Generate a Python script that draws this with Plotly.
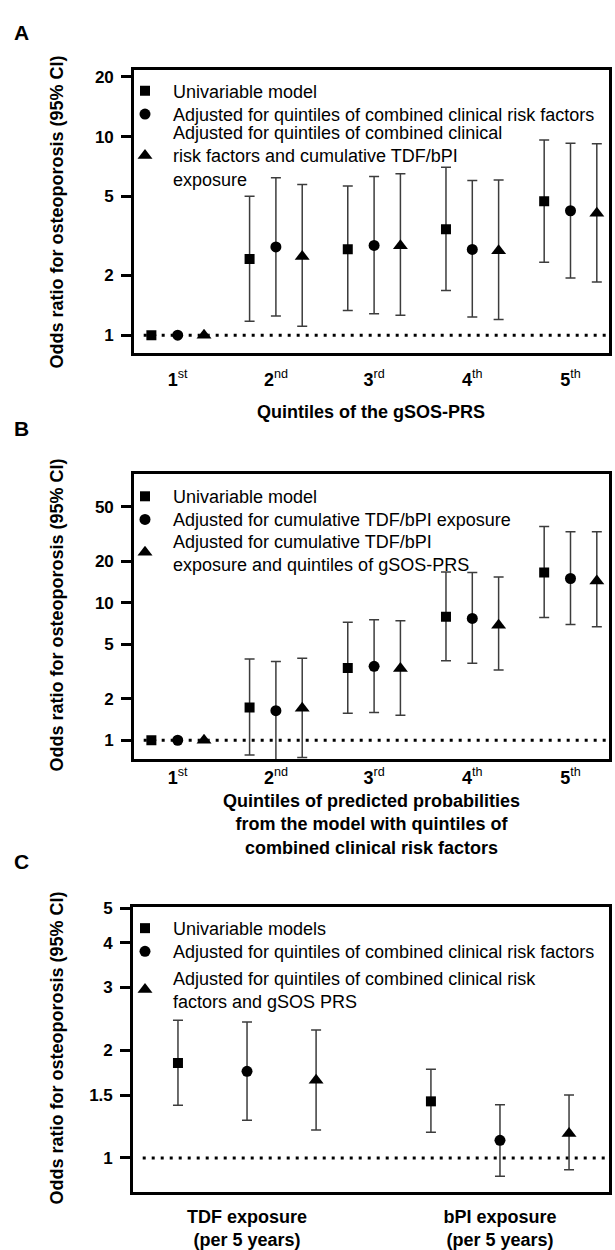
import plotly.graph_objects as go

FONT = "Liberation Sans, Arial, Helvetica, sans-serif"

# ---------------- data ----------------
# Panel A: quintiles of the gSOS-PRS
A_TICK_LABELS = ["<b>1</b><sup>st</sup>", "<b>2</b><sup>nd</sup>", "<b>3</b><sup>rd</sup>",
                 "<b>4</b><sup>th</sup>", "<b>5</b><sup>th</sup>"]
A_NAMES = ["Univariable model",
           "Adjusted for quintiles of combined clinical risk factors",
           "Adjusted for quintiles of combined clinical<br>risk factors and cumulative TDF/bPI<br>exposure"]
A_OR_1 = [1, 2.42, 2.71, 3.41, 4.73]
A_LO_1 = [None, 1.175, 1.33, 1.68, 2.33]
A_HI_1 = [None, 5.01, 5.64, 7.0, 9.62]
A_OR_2 = [1, 2.78, 2.83, 2.70, 4.23]
A_LO_2 = [None, 1.25, 1.28, 1.235, 1.94]
A_HI_2 = [None, 6.21, 6.29, 6.0, 9.26]
A_OR_3 = [1, 2.49, 2.82, 2.66, 4.11]
A_LO_3 = [None, 1.11, 1.26, 1.2, 1.85]
A_HI_3 = [None, 5.73, 6.5, 6.05, 9.19]
A_YTICKS = [1, 2, 5, 10, 20]

# Panel B: quintiles of predicted probabilities
B_TICK_LABELS = A_TICK_LABELS
B_NAMES = ["Univariable model",
           "Adjusted for cumulative TDF/bPI exposure",
           "Adjusted for cumulative TDF/bPI<br>exposure and quintiles of gSOS-PRS"]
B_OR_1 = [1, 1.73, 3.35, 7.9, 16.6]
B_LO_1 = [None, 0.78, 1.57, 3.79, 7.8]
B_HI_1 = [None, 3.9, 7.22, 16.7, 35.9]
B_OR_2 = [1, 1.64, 3.45, 7.69, 15.0]
B_LO_2 = [None, 0.62, 1.59, 3.63, 6.95]
B_HI_2 = [None, 3.73, 7.51, 16.6, 32.8]
B_OR_3 = [1, 1.71, 3.32, 6.87, 14.4]
B_LO_3 = [None, 0.75, 1.52, 3.24, 6.68]
B_HI_3 = [None, 3.95, 7.39, 15.4, 32.8]
B_YTICKS = [1, 2, 5, 10, 20, 50]

# Panel C: exposures per 5 years
C_TICK_LABELS = ["TDF exposure<br>(per 5 years)", "bPI exposure<br>(per 5 years)"]
C_NAMES = ["Univariable models",
           "Adjusted for quintiles of combined clinical risk factors",
           "Adjusted for quintiles of combined clinical risk<br>factors and gSOS PRS"]
C_OR_1 = [1.845, 1.44]
C_LO_1 = [1.405, 1.18]
C_HI_1 = [2.43, 1.77]
C_OR_2 = [1.747, 1.12]
C_LO_2 = [1.275, 0.889]
C_HI_2 = [2.40, 1.41]
C_OR_3 = [1.65, 1.17]
C_LO_3 = [1.197, 0.927]
C_HI_3 = [2.28, 1.50]
C_YTICKS = [1, 1.5, 2, 3, 4, 5]

REF_OR = 1

Y_TITLE = "Odds ratio for osteoporosis (95% CI)"
A_XTITLE = "Quintiles of the gSOS-PRS"
B_XTITLE = "Quintiles of predicted probabilities<br>from the model with quintiles of<br>combined clinical risk factors"

# ---------------- layout helpers ----------------
W, H = 615, 1250
SYMBOLS = ["square", "circle", "triangle-up"]
SIZES = [10, 11, 13]


def px_x(v):
    return v / W


def px_y(v):
    return 1 - v / H


def plus(orv, hi):
    return [None if h is None else h - o for o, h in zip(orv, hi)]


def minus(orv, lo):
    return [None if l is None else o - l for o, l in zip(orv, lo)]


fig = go.Figure()

# top edge (window px) of each legend entry's box
LEGEND_TOPS = [[65.1, 88.5, 106.6], [473.5, 496.8, 518.1], [908.5, 931.8, 958.6]]

panels = [
    dict(key="", ors=[A_OR_1, A_OR_2, A_OR_3], los=[A_LO_1, A_LO_2, A_LO_3],
         his=[A_HI_1, A_HI_2, A_HI_3], names=A_NAMES, offset=0.268),
    dict(key="2", ors=[B_OR_1, B_OR_2, B_OR_3], los=[B_LO_1, B_LO_2, B_LO_3],
         his=[B_HI_1, B_HI_2, B_HI_3], names=B_NAMES, offset=0.268),
    dict(key="3", ors=[C_OR_1, C_OR_2, C_OR_3], los=[C_LO_1, C_LO_2, C_LO_3],
         his=[C_HI_1, C_HI_2, C_HI_3], names=C_NAMES, offset=0.273),
]

leg_common = dict(bgcolor="rgba(0,0,0,0)", borderwidth=0,
                  font=dict(family=FONT, size=18, color="black"),
                  xanchor="left", yanchor="top", valign="middle", itemwidth=46,
                  itemclick=False, itemdoubleclick=False)
legends = {}
n = 0
for pi, p in enumerate(panels):
    for k in range(3):
        n += 1
        lname = "legend" if n == 1 else "legend%d" % n
        legends[lname] = dict(**leg_common, x=px_x(117), y=px_y(LEGEND_TOPS[pi][k]))
        orv = p["ors"][k]
        xs = [i + (k - 1) * p["offset"] for i in range(len(orv))]
        fig.add_trace(go.Scatter(
            x=xs, y=orv, mode="markers", name=p["names"][k],
            xaxis="x" + p["key"], yaxis="y" + p["key"], legend=lname,
            marker=dict(symbol=SYMBOLS[k], size=SIZES[k], color="black"),
            error_y=dict(type="data", symmetric=False,
                         array=plus(orv, p["his"][k]), arrayminus=minus(orv, p["los"][k]),
                         color="#3c3c3c", thickness=1.5, width=5),
            hoverinfo="skip",
        ))

box = dict(showline=True, mirror=True, linewidth=3, linecolor="black",
           showgrid=False, zeroline=False, fixedrange=True)

xdom_ab = [px_x(134.2), px_x(608.5)]
xdom_c = [px_x(133.2), px_x(608.5)]

fig.update_layout(
    width=W, height=H, margin=dict(l=0, r=0, t=0, b=0),
    paper_bgcolor="white", plot_bgcolor="white",
    font=dict(family=FONT, color="black", size=18),
    showlegend=True,
    xaxis=dict(**box, domain=xdom_ab, range=[-0.443, 4.387], anchor="y",
               tickvals=list(range(len(A_TICK_LABELS))), ticktext=A_TICK_LABELS,
               ticks="outside", ticklen=8, tickcolor="rgba(0,0,0,0)",
               tickfont=dict(size=18)),
    yaxis=dict(**box, domain=[px_y(347.8), px_y(62.5)], type="log", range=[-0.0915, 1.335],
               anchor="x", tickvals=A_YTICKS, ticktext=[str(v) for v in A_YTICKS],
               ticks="outside", ticklen=10, tickwidth=3, tickcolor="black",
               ticklabelstandoff=4, tickfont=dict(size=17, weight="bold")),
    xaxis2=dict(**box, domain=xdom_ab, range=[-0.443, 4.387], anchor="y2",
                tickvals=list(range(len(B_TICK_LABELS))), ticktext=B_TICK_LABELS,
                ticks="outside", ticklen=0, tickcolor="rgba(0,0,0,0)",
                tickfont=dict(size=18)),
    yaxis2=dict(**box, domain=[px_y(756.8), px_y(469.8)], type="log", range=[-0.139, 1.933],
                anchor="x2", tickvals=B_YTICKS, ticktext=[str(v) for v in B_YTICKS],
                ticks="outside", ticklen=10, tickwidth=3, tickcolor="black",
                ticklabelstandoff=4, tickfont=dict(size=17, weight="bold")),
    xaxis3=dict(**box, domain=xdom_c, range=[-0.45, 1.429], anchor="y3",
                tickvals=list(range(len(C_TICK_LABELS))), ticktext=C_TICK_LABELS,
                ticks="outside", ticklen=6, tickcolor="rgba(0,0,0,0)",
                tickfont=dict(size=18, weight="bold")),
    yaxis3=dict(**box, domain=[px_y(1192.5), px_y(905.8)], type="log", range=[-0.095, 0.7014],
                anchor="x3", tickvals=C_YTICKS, ticktext=[str(v) for v in C_YTICKS],
                ticks="outside", ticklen=10, tickwidth=3, tickcolor="black",
                ticklabelstandoff=4, tickfont=dict(size=17, weight="bold")),
    **legends,
)

# reference line at OR = 1
for key in ["", "2", "3"]:
    fig.add_shape(type="line", xref=("x" + key + " domain"), yref="y" + key,
                  x0=0.02, x1=1, y0=REF_OR, y1=REF_OR, layer="below",
                  line=dict(color="black", width=3, dash="3px,6px"))

ann = []
# panel letters
for letter, yc in [("A", 25), ("B", 424), ("C", 860)]:
    ann.append(dict(text="<b>%s</b>" % letter, x=px_x(12), y=px_y(yc), xref="paper", yref="paper",
                    xanchor="left", yanchor="middle", showarrow=False, font=dict(size=21)))
# y titles
for yc in [206, 612, 1048]:
    ann.append(dict(text=Y_TITLE, x=px_x(57), y=px_y(yc), xref="paper", yref="paper",
                    xanchor="center", yanchor="middle", textangle=-90, showarrow=False,
                    font=dict(size=18, weight="bold")))
# x titles
ann.append(dict(text=A_XTITLE, x=px_x(371), y=px_y(407), xref="paper", yref="paper",
                xanchor="center", yanchor="middle", showarrow=False, font=dict(size=18, weight="bold")))
ann.append(dict(text=B_XTITLE, x=px_x(371), y=px_y(822), xref="paper", yref="paper",
                xanchor="center", yanchor="middle", showarrow=False, font=dict(size=18, weight="bold")))
fig.update_layout(annotations=ann)

# remove the page's default body margin so the 615x1250 figure fills the window exactly
fig.write_html("out.html",
               config={"staticPlot": True, "displayModeBar": False},
               post_script="document.body.style.margin='0px';"
                           "document.documentElement.style.overflow='hidden';")
